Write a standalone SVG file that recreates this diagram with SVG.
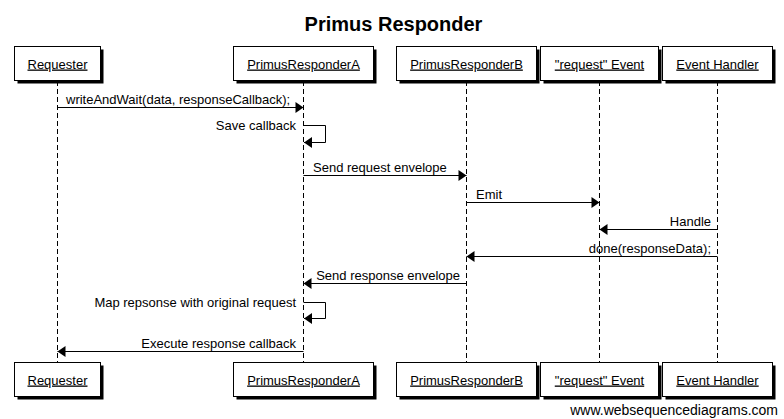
<svg xmlns="http://www.w3.org/2000/svg" width="784" height="419" viewBox="0 0 784 419">
<style>
text{font-family:"Liberation Sans",Arial,sans-serif;fill:#000}
.title{font-size:20px;font-weight:bold}
.lbl{font-size:13px;text-decoration:underline}
.msg{font-size:13px}
.foot{font-size:14px}
.box{fill:#fff;stroke:#000;stroke-width:1}
.shadow{fill:#000}
.life{stroke:#000;stroke-width:1;stroke-dasharray:5,3;fill:none}
.arr{stroke:#000;stroke-width:1;fill:none;marker-end:url(#ah)}
</style>
<defs>
<marker id="ah" markerUnits="userSpaceOnUse" markerWidth="8" markerHeight="11" refX="8" refY="5.5" orient="auto" overflow="visible">
<path d="M0,0 L8,5.5 L0,11 Z" fill="#000"/>
</marker>
</defs>
<rect width="784" height="419" fill="#fff"/>
<text class="title" x="393.5" y="31" text-anchor="middle">Primus Responder</text>

<g id="lifelines">
<line class="life" x1="57.5" y1="81" x2="57.5" y2="362"/>
<line class="life" x1="303.5" y1="81" x2="303.5" y2="362"/>
<line class="life" x1="466.5" y1="81" x2="466.5" y2="362"/>
<line class="life" x1="599.5" y1="81" x2="599.5" y2="362"/>
<line class="life" x1="717.5" y1="81" x2="717.5" y2="362"/>
</g>

<g id="requester">
<rect class="shadow" x="17.5" y="49.5" width="86" height="34"/>
<rect class="box" x="14.5" y="46.5" width="86" height="34"/>
<text class="lbl" x="57.5" y="68.5" text-anchor="middle">Requester</text>
<rect class="shadow" x="17.5" y="365.5" width="86" height="34"/>
<rect class="box" x="14.5" y="362.5" width="86" height="34"/>
<text class="lbl" x="57.5" y="384.5" text-anchor="middle">Requester</text>
</g>
<g id="responderA">
<rect class="shadow" x="236.5" y="49.5" width="140" height="34"/>
<rect class="box" x="233.5" y="46.5" width="140" height="34"/>
<text class="lbl" x="303.5" y="68.5" text-anchor="middle">PrimusResponderA</text>
<rect class="shadow" x="236.5" y="365.5" width="140" height="34"/>
<rect class="box" x="233.5" y="362.5" width="140" height="34"/>
<text class="lbl" x="303.5" y="384.5" text-anchor="middle">PrimusResponderA</text>
</g>
<g id="responderB">
<rect class="shadow" x="399.5" y="49.5" width="140" height="34"/>
<rect class="box" x="396.5" y="46.5" width="140" height="34"/>
<text class="lbl" x="466.5" y="68.5" text-anchor="middle">PrimusResponderB</text>
<rect class="shadow" x="399.5" y="365.5" width="140" height="34"/>
<rect class="box" x="396.5" y="362.5" width="140" height="34"/>
<text class="lbl" x="466.5" y="384.5" text-anchor="middle">PrimusResponderB</text>
</g>
<g id="requestEvent">
<rect class="shadow" x="543.5" y="49.5" width="118" height="34"/>
<rect class="box" x="540.5" y="46.5" width="118" height="34"/>
<text class="lbl" x="599.5" y="68.5" text-anchor="middle">"request" Event</text>
<rect class="shadow" x="543.5" y="365.5" width="118" height="34"/>
<rect class="box" x="540.5" y="362.5" width="118" height="34"/>
<text class="lbl" x="599.5" y="384.5" text-anchor="middle">"request" Event</text>
</g>
<g id="eventHandler">
<rect class="shadow" x="665.5" y="49.5" width="110" height="34"/>
<rect class="box" x="662.5" y="46.5" width="110" height="34"/>
<text class="lbl" x="717.5" y="68.5" text-anchor="middle">Event Handler</text>
<rect class="shadow" x="665.5" y="365.5" width="110" height="34"/>
<rect class="box" x="662.5" y="362.5" width="110" height="34"/>
<text class="lbl" x="717.5" y="384.5" text-anchor="middle">Event Handler</text>
</g>

<g id="connectors">
<line class="arr" x1="57.5" y1="107.5" x2="303.5" y2="107.5"/>
<text class="msg" x="66" y="104">writeAndWait(data, responseCallback);</text>

<path class="arr" d="M303.5,125.5 H325.5 V142.5 H304"/>
<text class="msg" x="296" y="130" text-anchor="end">Save callback</text>

<line class="arr" x1="303.5" y1="175.5" x2="466.5" y2="175.5"/>
<text class="msg" x="313" y="171.5">Send request envelope</text>

<line class="arr" x1="466.5" y1="202.5" x2="599.5" y2="202.5"/>
<text class="msg" x="476" y="198.5">Emit</text>

<line class="arr" x1="717.5" y1="229.5" x2="599.5" y2="229.5"/>
<text class="msg" x="711" y="225.5" text-anchor="end">Handle</text>

<line class="arr" x1="717.5" y1="256.5" x2="466.5" y2="256.5"/>
<text class="msg" x="711" y="252.5" text-anchor="end">done(responseData);</text>

<line class="arr" x1="466.5" y1="283.5" x2="303.5" y2="283.5"/>
<text class="msg" x="460" y="279.5" text-anchor="end">Send response envelope</text>

<path class="arr" d="M303.5,302.5 H325.5 V318.5 H304"/>
<text class="msg" x="296" y="307" text-anchor="end">Map repsonse with original request</text>

<line class="arr" x1="303.5" y1="351.5" x2="57.5" y2="351.5"/>
<text class="msg" x="296" y="347.5" text-anchor="end">Execute response callback</text>
</g>

<text class="foot" x="778" y="415" text-anchor="end">www.websequencediagrams.com</text>
</svg>
